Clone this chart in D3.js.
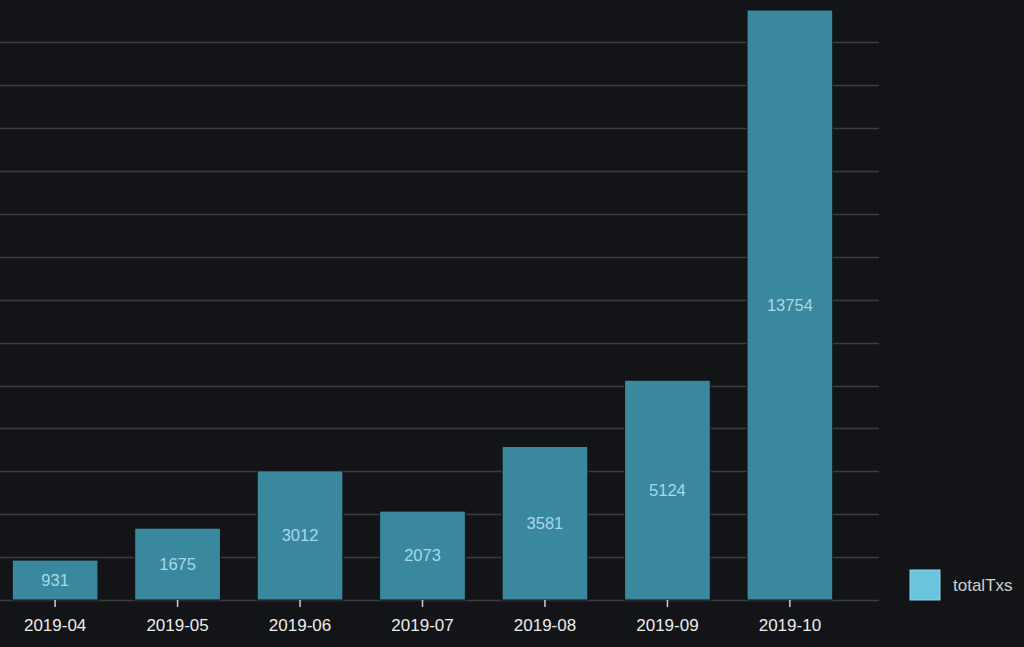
<!DOCTYPE html>
<html>
<head>
<meta charset="utf-8">
<script src="https://cdn.jsdelivr.net/npm/d3@7"></script>
<style>
  html, body { margin: 0; padding: 0; background: #131417; }
  #chart { width: 1024px; height: 647px; }
  text { font-family: "Liberation Sans", Arial, sans-serif; }
</style>
</head>
<body>
<div id="chart"></div>
<script>
// Chart data
const months = ["2019-04", "2019-05", "2019-06", "2019-07", "2019-08", "2019-09", "2019-10"];
const totalTxs = [931, 1675, 3012, 2073, 3581, 5124, 13754];
const gridTicks = [0, 1000, 2000, 3000, 4000, 5000, 6000, 7000, 8000, 9000, 10000, 11000, 12000, 13000];
const seriesName = "totalTxs";

const width = 1024, height = 647;
const plot = {left: 0, right: 879, top: 10, bottom: 600};

const svg = d3.select("#chart").append("svg")
    .attr("width", width)
    .attr("height", height);

// Scales
const xScale = d3.scaleBand()
    .domain(months)
    .range([0, 845])
    .paddingInner(0.3)
    .paddingOuter(0.1);

const yScale = d3.scaleLinear()
    .domain([0, d3.max(totalTxs)])
    .range([plot.bottom, plot.top]);

// Horizontal gridlines
svg.append("g")
    .selectAll("line")
    .data(gridTicks)
    .enter().append("line")
    .attr("x1", plot.left)
    .attr("x2", plot.right)
    .attr("y1", d => Math.round(yScale(d)) + 0.5)
    .attr("y2", d => Math.round(yScale(d)) + 0.5)
    .attr("stroke", "#3b3c3f")
    .attr("stroke-width", 1.5);

// Bars
svg.append("g")
    .selectAll("rect")
    .data(totalTxs)
    .enter().append("rect")
    .attr("x", (d, i) => xScale(months[i]))
    .attr("y", d => yScale(d))
    .attr("width", xScale.bandwidth())
    .attr("height", d => plot.bottom - yScale(d))
    .attr("fill", "#3a889d")
    .attr("stroke", "#111215")
    .attr("stroke-width", 1);

// Value labels centred in each bar
svg.append("g")
    .selectAll("text")
    .data(totalTxs)
    .enter().append("text")
    .attr("x", (d, i) => xScale(months[i]) + xScale.bandwidth() / 2)
    .attr("y", d => (yScale(d) + plot.bottom) / 2)
    .attr("dy", "0.35em")
    .attr("text-anchor", "middle")
    .attr("fill", "#a6d9e8")
    .style("font-size", "16.5px")
    .text(d => d);

// X axis
const xAxis = svg.append("g")
    .attr("transform", `translate(0,${plot.bottom})`)
    .call(d3.axisBottom(xScale).tickSize(7).tickPadding(12));

xAxis.select(".domain").remove();
xAxis.selectAll(".tick line").attr("stroke", "#cfcfcf").attr("stroke-width", 1.5);
xAxis.selectAll(".tick text")
    .attr("fill", "#ececec")
    .style("font-size", "17px")
    .style("font-family", "'Liberation Sans', Arial, sans-serif");

// Legend
const legend = svg.append("g").attr("transform", "translate(910,570)");
legend.append("rect")
    .attr("width", 30)
    .attr("height", 30)
    .attr("fill", "#6ac4dd")
    .attr("stroke", "#8fd6ea")
    .attr("stroke-width", 1);
legend.append("text")
    .attr("x", 43)
    .attr("y", 15)
    .attr("dy", "0.35em")
    .attr("fill", "#cfcfcf")
    .style("font-size", "17px")
    .text(seriesName);
</script>
</body>
</html>
